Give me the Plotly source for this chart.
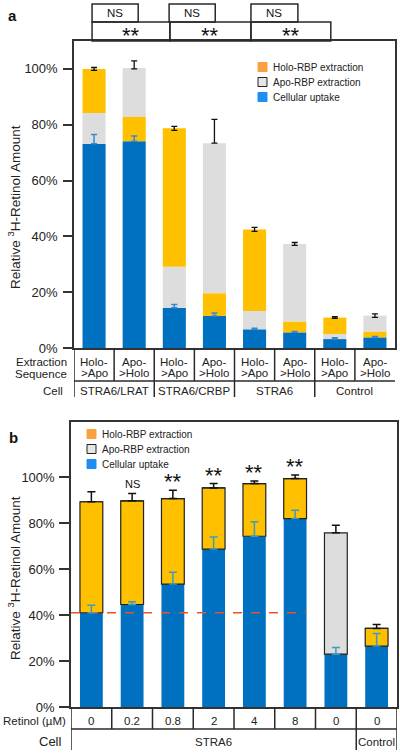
import numpy as np
import plotly.graph_objects as go

W, H = 400, 753
FONT = "Liberation Sans, Arial, sans-serif"

# ---------------- Panel a data ----------------
seq_a = ["Holo->Apo", "Apo->Holo"] * 4
seq_a_line1 = ["Holo-", "Apo-"] * 4
seq_a_line2 = [">Apo", ">Holo"] * 4
cells_a = ["STRA6/LRAT", "STRA6/CRBP", "STRA6", "Control"]
uptake_a = [73.2, 74.1, 14.4, 11.5, 6.7, 5.6, 3.2, 3.8]
apo_a = [11.0, 17.5, 14.7, 53.8, 6.6, 27.9, 1.8, 5.8]
holo_a = [15.8, 8.7, 49.6, 8.1, 29.2, 3.8, 5.9, 2.0]
uptake_err_a = [3.3, 1.9, 1.2, 1.0, 0.4, 0.3, 0.5, 0.3]
total_err_a = [0.5, 2.6, 0.7, 8.5, 0.7, 0.5, 0.3, 0.6]
total_err_minus_a = [0.5, 0.3, 0.7, 0.0, 0.7, 0.5, 0.3, 0.6]

# ---------------- Panel b data ----------------
retinol_b = ["0", "0.2", "0.8", "2", "4", "8", "0", "0"]
cells_b = ["STRA6", "Control"]
uptake_b = [41.0, 44.6, 53.5, 68.7, 74.3, 82.0, 23.0, 26.5]
holo_b = [48.3, 45.1, 37.2, 26.6, 22.9, 17.4, 0.0, 7.7]
apo_b = [0.0, 0.0, 0.0, 0.0, 0.0, 0.0, 52.8, 0.0]
uptake_err_b = [3.3, 1.2, 5.1, 5.3, 6.3, 3.6, 2.9, 5.5]
total_err_b = [4.3, 3.2, 3.6, 1.9, 1.1, 1.5, 3.3, 1.7]
sig_b = ["", "NS", "**", "**", "**", "**", "", ""]

yticks = [0, 20, 40, 60, 80, 100]
ytick_text = [f"{v}%" for v in yticks]

BLUE = "#0070C0"
ORANGE = "#FFC000"
GRAY = "#DDDDDD"
BLUE_ERR_A = "#3A86CC"
BLUE_ERR_B = "#3A9DC0"
LINE = "#2a2a2a"


def pxx(p):
    return p / W


def pxy(p):
    return 1 - p / H


def note(text, x, y, xref="paper", yref="paper", size=11.5, xanchor="center", yanchor="middle",
         color="#222", **kw):
    d = dict(text=text, x=x, y=y, xref=xref, yref=yref, showarrow=False, xanchor=xanchor,
             yanchor=yanchor, font=dict(size=size, color=color, family=FONT))
    d.update(kw)
    return d


fig = go.Figure()

# ---------- panel a bars ----------
ia = np.arange(len(uptake_a))
up = np.array(uptake_a)
apo = np.array(apo_a)
holo = np.array(holo_a)
mid_is_apo = np.array([s == "Holo->Apo" for s in seq_a])
apo_base = np.where(mid_is_apo, up, up + holo)
holo_base = np.where(mid_is_apo, up + apo, up)
total_a = up + apo + holo
BW_A = 0.575

fig.add_trace(go.Bar(x=ia, y=up, base=0, width=BW_A, marker=dict(color=BLUE, line_width=0),
                     xaxis="x", yaxis="y", hoverinfo="skip"))
fig.add_trace(go.Bar(x=ia, y=apo, base=apo_base, width=BW_A, marker=dict(color=GRAY, line_width=0),
                     xaxis="x", yaxis="y", hoverinfo="skip"))
fig.add_trace(go.Bar(x=ia, y=holo, base=holo_base, width=BW_A, marker=dict(color=ORANGE, line_width=0),
                     xaxis="x", yaxis="y", hoverinfo="skip"))
fig.add_trace(go.Scatter(x=ia, y=up, mode="markers", marker=dict(color="rgba(0,0,0,0)", size=1),
                         error_y=dict(type="data", symmetric=False, array=uptake_err_a,
                                      arrayminus=[0] * len(ia), color=BLUE_ERR_A, thickness=1.5, width=3),
                         xaxis="x", yaxis="y", hoverinfo="skip"))
fig.add_trace(go.Scatter(x=ia, y=total_a, mode="markers", marker=dict(color="rgba(0,0,0,0)", size=1),
                         error_y=dict(type="data", symmetric=False, array=total_err_a,
                                      arrayminus=total_err_minus_a, color="#111", thickness=1.3, width=3),
                         xaxis="x", yaxis="y", hoverinfo="skip"))

# ---------- panel b bars ----------
ib = np.arange(len(uptake_b))
upb = np.array(uptake_b)
holob = np.array(holo_b)
apob = np.array(apo_b)
total_b = upb + holob + apob
BW_B = 0.56

fig.add_trace(go.Bar(x=ib, y=upb, base=0, width=BW_B, marker=dict(color=BLUE, line_width=0),
                     xaxis="x2", yaxis="y2", hoverinfo="skip"))
fig.add_trace(go.Bar(x=ib, y=holob, base=upb, width=BW_B,
                     marker=dict(color=ORANGE, line=dict(color="#222", width=1.2)),
                     xaxis="x2", yaxis="y2", hoverinfo="skip"))
fig.add_trace(go.Bar(x=ib, y=apob, base=upb + holob, width=BW_B,
                     marker=dict(color=GRAY, line=dict(color="#222", width=1.2)),
                     xaxis="x2", yaxis="y2", hoverinfo="skip"))
fig.add_trace(go.Scatter(x=[-0.5, 5 + BW_B / 2], y=[uptake_b[0]] * 2, mode="lines",
                         line=dict(color="#E8542A", width=1.5, dash="dash"),
                         xaxis="x2", yaxis="y2", hoverinfo="skip"))
fig.add_trace(go.Scatter(x=ib, y=upb, mode="markers", marker=dict(color="rgba(0,0,0,0)", size=1),
                         error_y=dict(type="data", symmetric=False, array=uptake_err_b,
                                      arrayminus=[0] * len(ib), color=BLUE_ERR_B, thickness=1.5, width=4),
                         xaxis="x2", yaxis="y2", hoverinfo="skip"))
fig.add_trace(go.Scatter(x=ib, y=total_b, mode="markers", marker=dict(color="rgba(0,0,0,0)", size=1),
                         error_y=dict(type="data", symmetric=False, array=total_err_b,
                                      arrayminus=[0] * len(ib), color="#111", thickness=1.5, width=4),
                         xaxis="x2", yaxis="y2", hoverinfo="skip"))

shapes = []
ann = []

# ---------- panel a significance boxes ----------
ns_spans = [(-0.05, 1.1), (1.87, 3.02), (3.91, 5.08)]
st_spans = [(-0.05, 1.89), (1.89, 3.91), (3.91, 5.9)]
for x0, x1 in ns_spans:
    shapes.append(dict(type="rect", xref="x", yref="paper", x0=x0, x1=x1, y0=pxy(22), y1=pxy(4),
                       line=dict(color=LINE, width=1.5)))
    ann.append(note("NS", (x0 + x1) / 2, pxy(13), xref="x", size=11.5, color="#111"))
for x0, x1 in st_spans:
    shapes.append(dict(type="rect", xref="x", yref="paper", x0=x0, x1=x1, y0=pxy(41), y1=pxy(22),
                       line=dict(color=LINE, width=1.5)))
    ann.append(note("**", (x0 + x1) / 2, pxy(36), xref="x", size=22, color="#111"))

# ---------- panel a table ----------
for i in range(len(ia)):
    ann.append(note(seq_a_line1[i], i, pxy(362), xref="x"))
    ann.append(note(seq_a_line2[i], i, pxy(373), xref="x"))
for g, name in enumerate(cells_a):
    ann.append(note(name, 2 * g + 0.5, pxy(391), xref="x"))
for k in range(len(ia)):
    xb = k - 0.5
    yend = 397 if k % 2 == 0 else 381
    shapes.append(dict(type="line", xref="x", yref="paper", x0=xb, x1=xb, y0=pxy(348), y1=pxy(yend),
                       line=dict(color=LINE, width=1.5)))
shapes.append(dict(type="line", xref="x", yref="paper", x0=-0.5, x1=7.5, y0=pxy(381), y1=pxy(381),
                   line=dict(color=LINE, width=1.5)))
ann.append(note("Extraction", pxx(69), pxy(362), xanchor="right"))
ann.append(note("Sequence", pxx(69), pxy(374), xanchor="right"))
ann.append(note("Cell", pxx(65), pxy(391), xanchor="right"))

# ---------- panel b significance ----------
for i, s in enumerate(sig_b):
    if not s:
        continue
    if s == "NS":
        ann.append(note(s, i, total_b[i] + total_err_b[i], xref="x2", yref="y2", yanchor="bottom",
                        yshift=1, size=11, color="#111"))
    else:
        ann.append(note(s, i, total_b[i] + total_err_b[i], xref="x2", yref="y2", yanchor="bottom",
                        yshift=-6, size=22, color="#111"))

# ---------- panel b table ----------
for i in range(len(ib)):
    ann.append(note(retinol_b[i], i, pxy(721), xref="x2"))
ann.append(note(cells_b[0], 3, pxy(742), xref="x2"))
ann.append(note(cells_b[1], 7, pxy(742), xref="x2"))
for k in range(len(ib) + 1):
    xb = k - 0.5
    yend = 750 if k in (0, 7, 8) else 729
    shapes.append(dict(type="line", xref="x2", yref="paper", x0=xb, x1=xb, y0=pxy(707), y1=pxy(yend),
                       line=dict(color=LINE, width=1.5)))
shapes.append(dict(type="line", xref="x2", yref="paper", x0=-0.5, x1=7.5, y0=pxy(729), y1=pxy(729),
                   line=dict(color=LINE, width=1.5)))
ann.append(note("Retinol (µM)", pxx(68), pxy(721), xanchor="right"))
ann.append(note("Cell", pxx(64), pxy(741), xanchor="right", size=13))

# ---------- legends ----------
leg_names = ["Holo-RBP extraction", "Apo-RBP extraction", "Cellular uptake"]
leg_fill = ["#F8A042", "#E6E6E6", "#1F8EF1"]
leg_line = ["#F8A042", "#222", "#1F8EF1"]
for (lx, ly0) in [(258, 67), (87, 434)]:
    for j in range(3):
        cy = ly0 + j * 15
        shapes.append(dict(type="rect", xref="paper", yref="paper", x0=pxx(lx), x1=pxx(lx + 9),
                           y0=pxy(cy + 4.5), y1=pxy(cy - 4.5), fillcolor=leg_fill[j],
                           line=dict(color=leg_line[j], width=1)))
        ann.append(note(leg_names[j], pxx(lx + 13), pxy(cy), xanchor="left", size=10))

# ---------- y-axis titles and panel letters ----------
for cy in (207, 578):
    ann.append(note("Relative <sup>3</sup>H-Retinol Amount", pxx(14), pxy(cy), size=13.5, textangle=-90))
ann.append(note("<b>a</b>", pxx(12), pxy(16), size=15, color="#111"))
ann.append(note("<b>b</b>", pxx(13), pxy(437), size=15, color="#111"))

axis_common = dict(showgrid=False, zeroline=False, showline=True, mirror=True, automargin=False,
                   linecolor="#333", linewidth=1.5, fixedrange=True)
fig.update_layout(
    width=W, height=H, margin=dict(l=0, r=0, t=0, b=0, pad=0, autoexpand=False),
    paper_bgcolor="white", plot_bgcolor="white", showlegend=False, barmode="overlay",
    font=dict(family=FONT, color="#222"),
    xaxis=dict(domain=[pxx(74), pxx(395)], range=[-0.5, 7.5], showticklabels=False, ticks="",
               anchor="y", **axis_common),
    yaxis=dict(domain=[pxy(348), pxy(41)], range=[0, 110], tickmode="array", tickvals=yticks,
               ticktext=ytick_text, ticks="outside", ticklen=9, tickwidth=1.5, tickcolor="#333",
               ticklabelstandoff=3,
               tickfont=dict(size=13, color="#222", family=FONT), anchor="x", **axis_common),
    xaxis2=dict(domain=[pxx(71), pxx(397)], range=[-0.5, 7.5], showticklabels=False, ticks="",
                anchor="y2", **axis_common),
    yaxis2=dict(domain=[pxy(707), pxy(422)], range=[0, 124], tickmode="array", tickvals=yticks,
                ticktext=ytick_text, ticks="outside", ticklen=10, tickwidth=1.5, tickcolor="#333",
                ticklabelstandoff=2,
                tickfont=dict(size=13, color="#222", family=FONT), anchor="x2", **axis_common),
    shapes=shapes, annotations=ann,
)

fig.write_html("out.html", config={"displayModeBar": False},
               post_script="document.body.style.margin='0';document.body.style.overflow='hidden';")
